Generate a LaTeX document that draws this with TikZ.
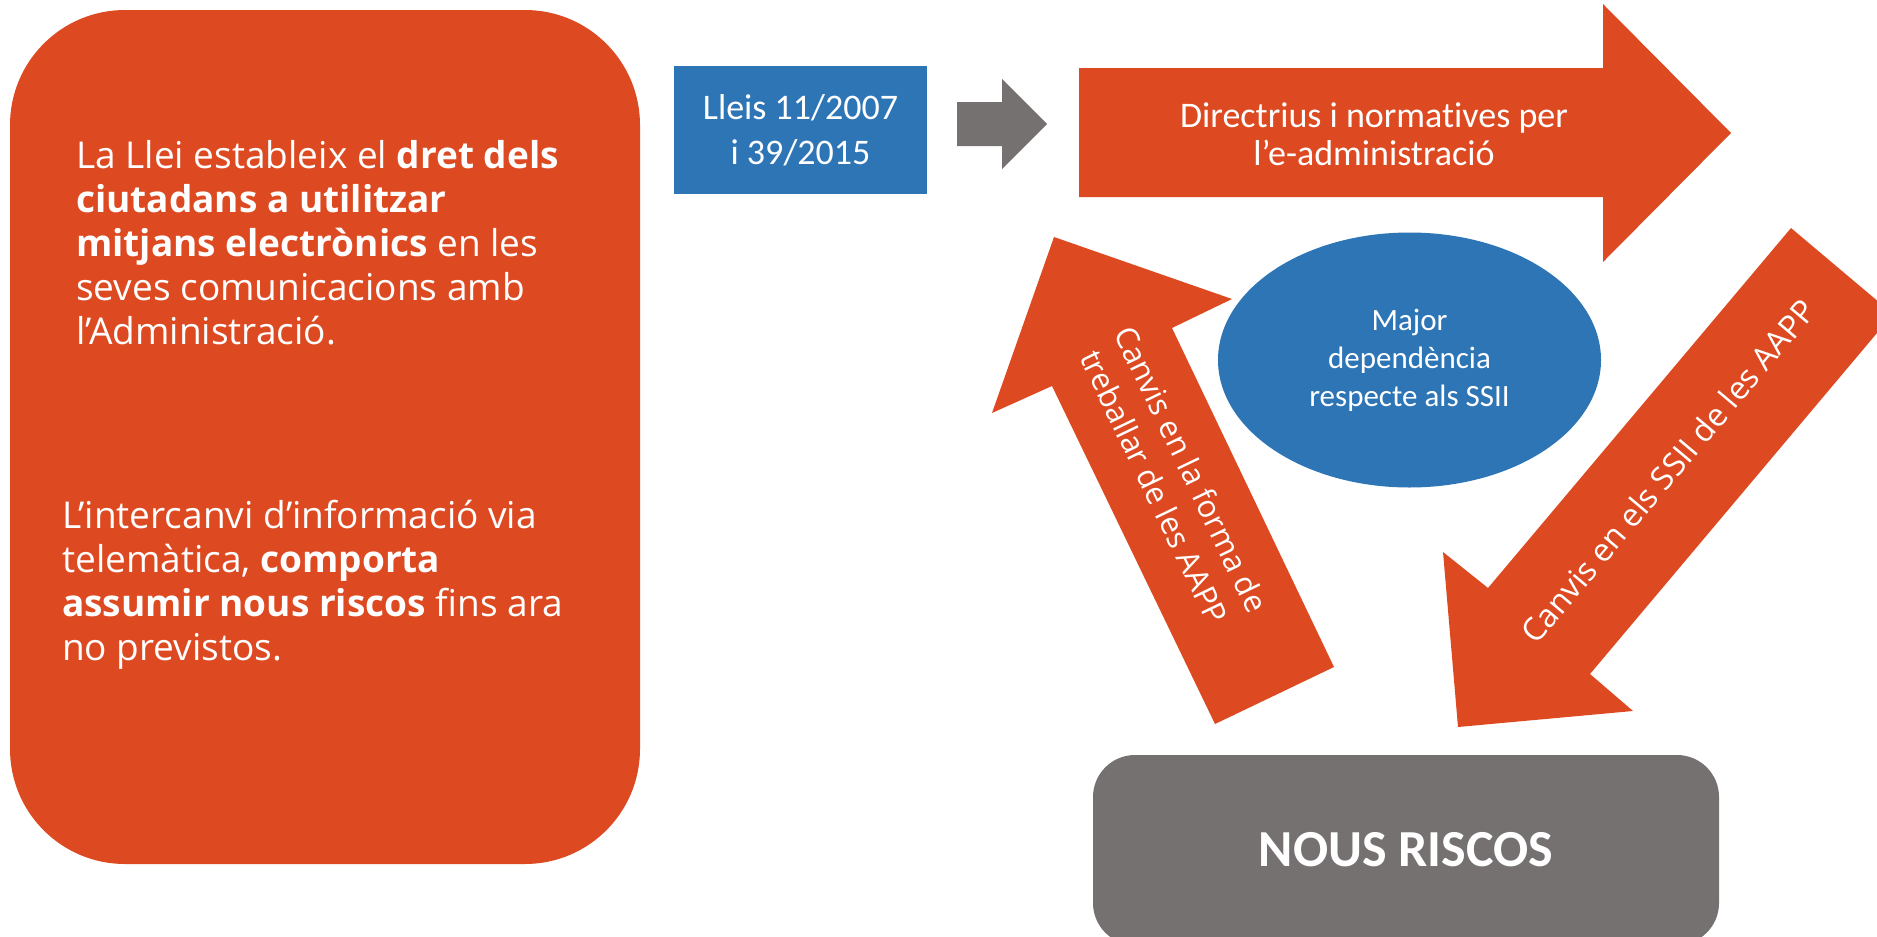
\documentclass[tikz,border=0pt]{standalone}
\usepackage{fontspec}
\setmainfont{Open Sans}
\newfontfamily\calibri[RawFeature={-liga;-clig;-calt;-dlig}]{Carlito}
\usetikzlibrary{shapes.geometric}
\definecolor{orng}{HTML}{DD4A22}
\definecolor{blu}{HTML}{2E75B6}
\definecolor{gry}{HTML}{767171}
\begin{document}
\begin{tikzpicture}[x=1pt,y=-1pt,
  txt/.style={text=white, inner sep=0pt},
  blockarrow/.style={fill=orng},
  para/.style={txt, font=\fontsize{37}{44}\selectfont, align=left, anchor=base west},
  rottxt/.style={txt, align=center}]
\path[use as bounding box] (0,0) rectangle (1877,937);
\fill[white] (0,0) rectangle (1877,937);

% left panel
\node[fill=orng, rounded corners=115pt, minimum width=630pt, minimum height=854pt, inner sep=0pt] (infobox) at (325,437) {};
\node[para] (law) at (76,344) {La Llei estableix el \textbf{dret dels}\\\textbf{ciutadans a utilitzar}\\\textbf{mitjans electrònics} en les\\seves comunicacions amb\\l’Administració.};
\node[para] (exch) at (62,660) {L’intercanvi d’informació via\\telemàtica, \textbf{comporta}\\\textbf{assumir nous riscos} fins ara\\no previstos.};

% laws box
\node[fill=blu, minimum width=253pt, minimum height=128pt, inner sep=0pt, text=white, align=center, font=\calibri\fontsize{36}{45}\selectfont] (lleis) at (800.5,130) {Lleis 11/2007\\i 39/2015};

% gray arrow
\fill[gry] (957,102) -- (1002,102) -- (1002,79) -- (1047,124) -- (1002,169) -- (1002,146) -- (957,146) -- cycle;

% big top arrow
\fill[blockarrow] (1079,68) -- (1603,68) -- (1603,4) -- (1731,133) -- (1603,262) -- (1603,197) -- (1079,197) -- cycle;
\node[txt, align=center, font=\calibri\fontsize{36}{38}\selectfont] (directr) at (1374,134) {Directrius i normatives per\\l’e-administració};

% ellipse
\node[ellipse, fill=blu, minimum width=383pt, minimum height=255pt, inner sep=0pt, text=white, align=center, font=\calibri\fontsize{31}{38}\selectfont] (dep) at (1409.5,360) {Major\\dependència\\respecte als SSII};

% left up arrow
\fill[blockarrow] (1054,237) -- (1232,299) -- (1172,328) -- (1334,667) -- (1215,724) -- (1052,386) -- (992,413) -- cycle;
\node[rottxt, font=\fontsize{31}{41}\selectfont, rotate=-64.3] (work) at (1173,478) {Canvis en la forma de\\treballar de les AAPP};

\begin{scope}
\clip (0,0) rectangle (1877,937);
% right down arrow
\fill[blockarrow] (1791,228) -- (1893,314) -- (1590,674) -- (1633,711) -- (1458,727) -- (1443,552) -- (1488,588) -- cycle;
\node[rottxt, font=\fontsize{32}{40}\selectfont, rotate=49.9] (sys) at (1668,471) {Canvis en els SSII de les AAPP};
% risks box
\node[fill=gry, rounded corners=42pt, minimum width=626pt, minimum height=190pt, inner sep=0pt, text=white, font=\calibri\bfseries\fontsize{52}{60}\selectfont] (risk) at (1406,850) {NOUS RISCOS};
\end{scope}
\end{tikzpicture}
\end{document}
